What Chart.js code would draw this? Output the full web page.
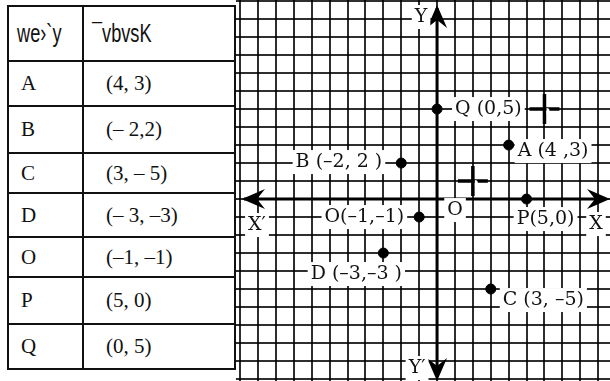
<!DOCTYPE html>
<html><head><meta charset="utf-8">
<script src="https://cdn.jsdelivr.net/npm/chart.js@4"></script>
<style>
html,body{margin:0;padding:0;background:#fff;width:610px;height:381px;overflow:hidden;}
#tbl{position:absolute;left:7px;top:5px;border-collapse:collapse;}
#tbl td{border:2px solid #111;padding:0 0 0 12px;vertical-align:middle;white-space:nowrap;}
#tbl td.c2{padding-left:22px;}
#tbl tr.hd td{font-family:"Liberation Sans",sans-serif;font-size:26px;color:#111;padding-left:8px;}
#tbl tr.hd td span{display:inline-block;transform:scaleX(0.7);transform-origin:left center;}
#tbl tr.rw td{font-family:"Liberation Serif","Times New Roman",serif;font-size:21px;color:#111;}
#wrap{position:absolute;left:236px;top:0;width:374px;height:381px;}
</style></head>
<body>
<table id="tbl"></table>
<div id="wrap"><canvas id="c" width="374" height="381"></canvas></div>
<script>
// ---- data ----
const headers = ['we›`y', '¯vbvsK'];
const names = ['A', 'B', 'C', 'D', 'O', 'P', 'Q'];
const coordTexts = ['(4, 3)', '(– 2,2)', '(3, – 5)', '(– 3, –3)', '(–1, –1)', '(5, 0)', '(0, 5)'];
const pointX = [4, -2, 3, -3, -1, 5, 0];
const pointY = [3, 2, -5, -3, -1, 0, 5];
const pointLabels = ['A (4 ,3)', 'B (–2, 2 )', 'C (3, –5)', 'D (–3,–3 )', 'O(–1,–1)', 'P(5,0)', 'Q (0,5)'];
const crossX = [2, 6];
const crossY = [1, 5];
const axisNames = ['X', 'X′', 'Y', 'Y′', 'O'];

// ---- table ----
const rowH = [55, 45, 47, 40, 44, 40, 47, 45];
const tbl = document.getElementById('tbl');
function addRow(cls, a, b, h, wrap) {
  const tr = document.createElement('tr'); tr.className = cls; tr.style.height = h + 'px';
  const t1 = document.createElement('td'); t1.style.width = '61px';
  const t2 = document.createElement('td'); t2.className = 'c2'; t2.style.width = '128px';
  if (wrap) {
    const s1 = document.createElement('span'); s1.textContent = a; t1.appendChild(s1);
    const s2 = document.createElement('span'); s2.textContent = b; t2.appendChild(s2);
  } else { t1.textContent = a; t2.textContent = b; }
  tr.appendChild(t1); tr.appendChild(t2); tbl.appendChild(tr);
}
addRow('hd', headers[0], headers[1], rowH[0], true);
names.forEach((n, i) => addRow('rw', n, coordTexts[i], rowH[i + 1], false));

// ---- chart ----
const labelPos = [ // [anchor, dx, dy] relative to point pixel
  ['left', 9, 6], ['right', -19, -1], ['left', 12, 11], ['center', -27, 21],
  ['right', -15, 0], ['center', 19, 20], ['left', 18, 0]
];
const serif = '"DejaVu Serif", serif';

function arrow(ctx, tx, ty, dir) {
  const L = 23, W = 10, N = 15;
  const [dx, dy] = dir, px = -dy, py = dx;
  ctx.beginPath();
  ctx.moveTo(tx, ty);
  ctx.lineTo(tx - dx * L + px * W, ty - dy * L + py * W);
  ctx.lineTo(tx - dx * N, ty - dy * N);
  ctx.lineTo(tx - dx * L - px * W, ty - dy * L - py * W);
  ctx.closePath();
  ctx.fill();
}
function boxText(ctx, text, x, y, align) {
  ctx.textAlign = align; ctx.textBaseline = 'middle';
  const w = ctx.measureText(text).width;
  let l = align === 'left' ? x : align === 'right' ? x - w : x - w / 2;
  ctx.fillStyle = '#fff';
  ctx.fillRect(l - 3, y - 12, w + 6, 24);
  ctx.fillStyle = '#111';
  ctx.fillText(text, x, y);
}

const axesPlugin = {
  id: 'axesPlugin',
  beforeDatasetsDraw(chart) {
    const ctx = chart.ctx, xs = chart.scales.x, ys = chart.scales.y, a = chart.chartArea;
    const ox = xs.getPixelForValue(0), oy = ys.getPixelForValue(0);
    ctx.save();
    ctx.strokeStyle = '#000'; ctx.fillStyle = '#000'; ctx.lineWidth = 3;
    ctx.beginPath();
    ctx.moveTo(a.left + 8, oy); ctx.lineTo(a.right - 8, oy);
    ctx.moveTo(ox, a.top + 8); ctx.lineTo(ox, a.bottom - 8);
    ctx.stroke();
    arrow(ctx, a.left + 6, oy, [-1, 0]);
    arrow(ctx, a.right, oy, [1, 0]);
    arrow(ctx, ox, a.top + 5, [0, -1]);
    arrow(ctx, ox, a.bottom, [0, 1]);
    ctx.font = '19px ' + serif;
    boxText(ctx, axisNames[0], a.right - 14, oy + 25, 'center');
    boxText(ctx, axisNames[1], a.left + 21, oy + 26, 'center');
    boxText(ctx, axisNames[2], ox - 16, a.top + 17, 'center');
    boxText(ctx, axisNames[3], ox - 20, a.bottom - 13, 'center');
    boxText(ctx, axisNames[4], ox + 18, oy + 11, 'center');
    ctx.restore();
  },
  afterDatasetsDraw(chart) {
    const ctx = chart.ctx, meta = chart.getDatasetMeta(0);
    ctx.save();
    // small white notch on registration crosses
    chart.getDatasetMeta(1).data.forEach(el => {
      ctx.fillStyle = '#fff';
      ctx.beginPath(); ctx.arc(el.x + 2, el.y + 2, 3, -Math.PI / 2, Math.PI / 2); ctx.fill();
    });
    ctx.font = '19px ' + serif;
    meta.data.forEach((el, i) => {
      const p = labelPos[i];
      boxText(ctx, pointLabels[i], el.x + p[1], el.y + p[2], p[0]);
    });
    ctx.restore();
  }
};

new Chart(document.getElementById('c'), {
  type: 'scatter',
  data: {
    datasets: [
      { data: pointX.map((x, i) => ({ x, y: pointY[i] })), pointRadius: 5, pointHoverRadius: 5,
        backgroundColor: '#000', borderColor: '#000' },
      { data: crossX.map((x, i) => ({ x, y: crossY[i] })), pointStyle: 'cross', pointRadius: 15,
        borderWidth: 3.5, borderColor: '#000' }
    ]
  },
  options: {
    responsive: false, animation: false, devicePixelRatio: 1,
    layout: { padding: 0, autoPadding: false },
    plugins: { legend: { display: false }, tooltip: { enabled: false } },
    scales: {
      x: { type: 'linear', min: -11.23, max: 9.66, border: { display: false },
           ticks: { display: false, stepSize: 1, includeBounds: false },
           grid: { color: 'rgba(0,0,0,0.82)', lineWidth: 2, drawTicks: false } },
      y: { type: 'linear', min: -10.11, max: 11.06, border: { display: false },
           ticks: { display: false, stepSize: 1, includeBounds: false },
           grid: { color: 'rgba(0,0,0,0.82)', lineWidth: 2, drawTicks: false } }
    }
  },
  plugins: [axesPlugin]
});
</script>
</body></html>
